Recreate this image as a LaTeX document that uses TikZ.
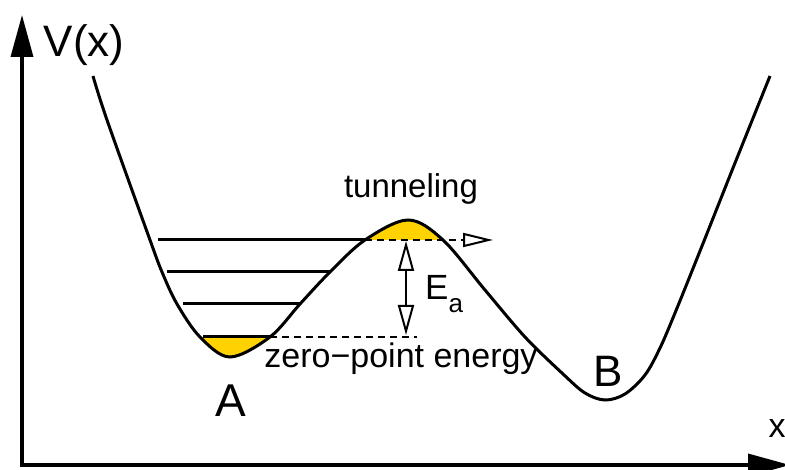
\documentclass[tikz,border=0pt]{standalone}
\usepackage{fontspec}
\setmainfont{Liberation Sans}
\usetikzlibrary{arrows.meta}
\definecolor{gold}{RGB}{255,210,0}
\tikzset{
  axisline/.style={line width=3.5pt,{Triangle[length=42pt,width=22pt]}-{Triangle[length=42pt,width=22pt]}},
  wellcurve/.style={line width=3pt},
  levelline/.style={line width=3pt},
  dashline/.style={line width=2pt,dash pattern=on 7pt off 5pt},
  lbl/.style={inner sep=0pt,anchor=base},
}
\def\wellpath{plot[smooth,tension=0.55] coordinates {(93,76) (107,120) (150,240) (162,272) (177,304) (200,337) (230,357) (270,337) (300,304) (330,272) (365,240) (408,220) (443,240) (485,290) (525,337) (563,374) (585,393) (605,400) (625,394) (645,375) (660,348) (675,313) (700,251) (735,163) (770,76)}}
\begin{document}
\begin{tikzpicture}[x=1pt,y=-1pt]
\useasboundingbox (0,0) rectangle (785,470);
% yellow fills
\begin{scope}
  \clip \wellpath -- (770,0) -- (93,0) -- cycle;
  \fill[gold] (190,337) rectangle (280,365);
\end{scope}
\begin{scope}
  \clip \wellpath -- (770,480) -- (93,480) -- cycle;
  \fill[gold] (355,210) rectangle (455,240);
\end{scope}
% axes
\coordinate (O) at (22,465);
\coordinate (ytip) at (22,15);
\coordinate (xtip) at (790,465);
\draw[axisline] (ytip) -- (O) -- (xtip);
% curve
\draw[wellcurve] \wellpath;
% levels
\coordinate (l1s) at (158,240); \coordinate (l1e) at (365,240);
\coordinate (l2s) at (167,272); \coordinate (l2e) at (330,272);
\coordinate (l3s) at (183,304); \coordinate (l3e) at (300,304);
\coordinate (l4s) at (203,337); \coordinate (l4e) at (270,337);
\draw[levelline] (l1s) -- (l1e);
\draw[levelline] (l2s) -- (l2e);
\draw[levelline] (l3s) -- (l3e);
\draw[levelline] (l4s) -- (l4e);
% dashed lines
\coordinate (tuntip) at (493,240);
\coordinate (zpeend) at (417,337);
\draw[dashline,-{Triangle[open,length=30pt,width=14pt]}] (l1e) -- (tuntip);
\draw[dashline] (l4e) -- (zpeend);
% activation energy arrow
\coordinate (eatop) at (406,241);
\coordinate (eabot) at (406,335);
\draw[line width=2pt,{Triangle[open,length=30pt,width=16pt]}-{Triangle[open,length=30pt,width=16pt]}] (eatop) -- (eabot);
% labels
\node[lbl,font=\fontsize{44}{44}\selectfont] (vlab) at (84,57) {V(x)};
\node[lbl,font=\fontsize{34}{34}\selectfont] (xlab) at (777,438) {x};
\node[lbl,font=\fontsize{33}{33}\selectfont] (tun) at (411,198) {tunneling};
\node[lbl,font=\fontsize{34}{34}\selectfont] (zpe) at (401,368) {zero−point energy};
\node[lbl,font=\fontsize{46}{46}\selectfont] (A) at (231,417) {A};
\node[lbl,font=\fontsize{44}{44}\selectfont] (B) at (608,387) {B};
\node[inner sep=0pt,anchor=base west,font=\fontsize{35}{35}\selectfont] (Ea) at (425,300) {E\raisebox{-13pt}{\fontsize{26}{26}\selectfont a}};
\end{tikzpicture}
\end{document}
